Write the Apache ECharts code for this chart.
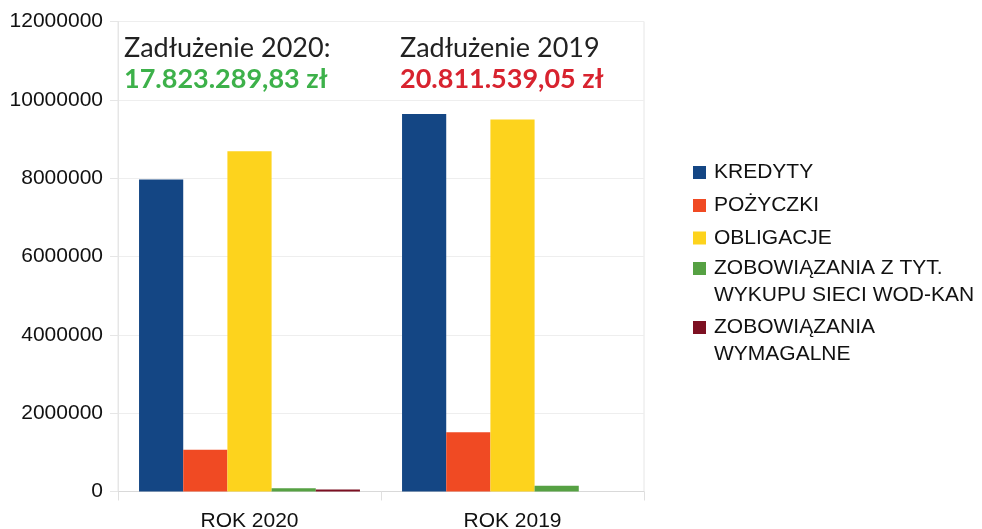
<!DOCTYPE html>
<html>
<head>
    <meta charset="utf-8">
    <title>Zadłużenie 2020 / 2019</title>
    <script src="https://cdn.jsdelivr.net/npm/echarts@6/dist/echarts.min.js"></script>
    <style>
        html, body { margin: 0; padding: 0; background: #fff; }
    </style>
</head>
<body>
    <div id="main" style="width: 982px;height:529px;"></div>

    <script type="text/javascript">

        // dane
        var categories = ['ROK 2020', 'ROK 2019'];
        var kredyty = [7965000, 9640000];
        var pozyczki = [1065000, 1510000];
        var obligacje = [8690000, 9500000];
        var wodKan = [85000, 150000];
        var wymagalne = [50000, 0];
        var yTicks = [0, 2000000, 4000000, 6000000, 8000000, 10000000, 12000000];

        var names = ['KREDYTY', 'POŻYCZKI', 'OBLIGACJE',
            'ZOBOWIĄZANIA Z TYT.\nWYKUPU SIECI WOD-KAN', 'ZOBOWIĄZANIA\nWYMAGALNE'];
        var values = [kredyty, pozyczki, obligacje, wodKan, wymagalne];
        var colors = ['#144684', '#f04a23', '#fdd31d', '#56a143', '#7d1022'];

        // pozycje legendy (środek ikony)
        var legendMid = [168.5, 201.5, 234, 268.5, 327.5];

        var series = [];
        var legends = [];
        for (var i = 0; i < names.length; i++) {
            series.push({
                name: names[i],
                type: 'bar',
                data: values[i],
                barGap: 0,
                barCategoryGap: '16%',
                itemStyle: { color: colors[i] }
            });
            var multi = names[i].indexOf('\n') >= 0;
            legends.push({
                data: [names[i]],
                left: 693,
                top: multi ? legendMid[i] - 40.5 : legendMid[i] - 6.5,
                padding: 0,
                icon: 'rect',
                itemWidth: 13,
                itemHeight: 13,
                selectedMode: false,
                formatter: multi ? function (n) { return '\n' + n; } : '{name}',
                textStyle: {
                    fontFamily: 'Liberation Sans',
                    fontSize: 21,
                    color: '#111',
                    lineHeight: multi ? 27 : 13,
                    padding: [0, 0, 0, 3]
                }
            });
        }

        var myChart = echarts.init(document.getElementById('main'));

        var option = {
            backgroundColor: '#fff',
            animation: false,
            legend: legends,
            grid: {
                left: 118,
                right: 338,
                top: 21.5,
                bottom: 37.5,
                outerBoundsMode: 'none',
                containLabel: false,
                show: true,
                borderColor: '#e6e6e6',
                borderWidth: 1
            },
            xAxis: {
                type: 'category',
                data: categories,
                axisLine: { lineStyle: { color: '#d9d9d9' } },
                axisTick: { show: true, length: 9, interval: 0, lineStyle: { color: '#e0e0e0' } },
                axisLabel: {
                    margin: 19,
                    fontFamily: 'Liberation Sans',
                    fontSize: 21,
                    color: '#111'
                }
            },
            yAxis: {
                type: 'value',
                min: yTicks[0],
                max: yTicks[yTicks.length - 1],
                interval: yTicks[1] - yTicks[0],
                axisLine: { show: true, lineStyle: { color: '#e6e6e6' } },
                axisTick: { show: true, length: 8, lineStyle: { color: '#e6e6e6' } },
                splitLine: { lineStyle: { color: '#eeeeee' } },
                axisLabel: {
                    margin: 15,
                    fontFamily: 'Liberation Sans',
                    fontSize: 21,
                    color: '#111',
                    formatter: function (v) { return String(v); }
                }
            },
            graphic: [
                {
                    type: 'text', left: 124, top: 35,
                    style: { text: 'Zadłużenie 2020:', font: '27px Lato', fill: '#222' }
                },
                {
                    type: 'text', left: 124, top: 66,
                    style: { text: '17.823.289,83 zł', font: 'bold 27px Lato', fill: '#3db14a' }
                },
                {
                    type: 'text', left: 400, top: 35,
                    style: { text: 'Zadłużenie 2019', font: '27px Lato', fill: '#222' }
                },
                {
                    type: 'text', left: 400, top: 66,
                    style: { text: '20.811.539,05 zł', font: 'bold 27px Lato', fill: '#d8232f' }
                }
            ],
            series: series
        };

        myChart.setOption(option);
    </script>
</body>
</html>
